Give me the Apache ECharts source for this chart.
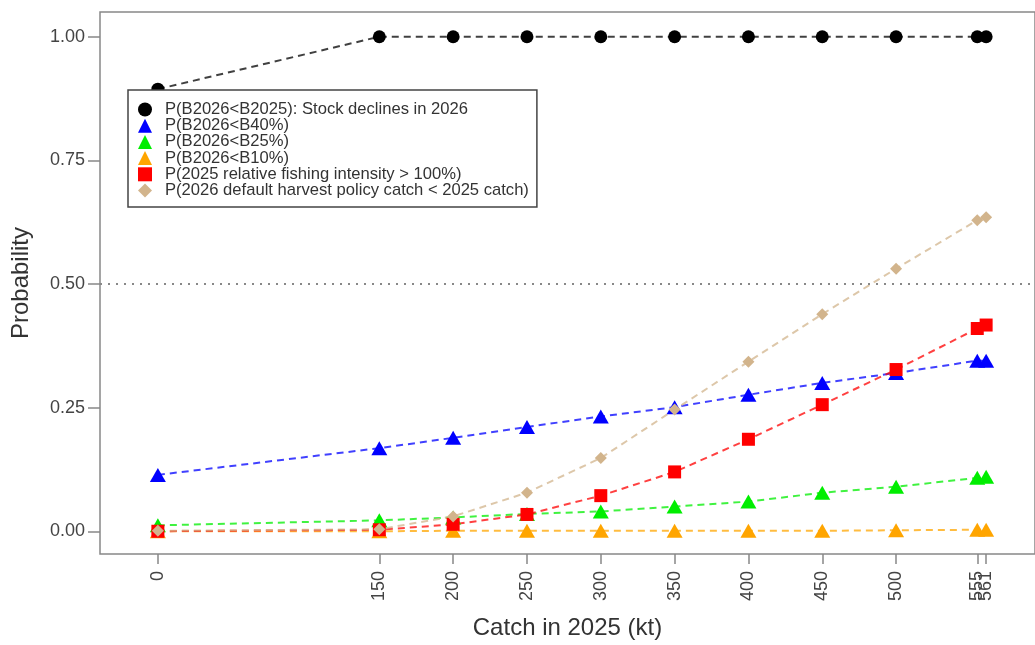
<!DOCTYPE html>
<html>
<head>
<meta charset="utf-8">
<script src="https://cdn.jsdelivr.net/npm/echarts@6/dist/echarts.min.js"></script>
<style>
  html, body { margin: 0; padding: 0; background: #fff; }
  #probChart { width: 1035px; height: 645px; }
</style>
</head>
<body>
<div id="probChart"></div>
<script>
// catch levels (kt) and tick labels
const catchKt = [0, 150, 200, 250, 300, 350, 400, 450, 500, 555, 561]
const yTicks = [0, 0.25, 0.5, 0.75, 1]
// 555 and 561 overlap, so 555 goes on its own label layer
const crowdedTick = [555]

// probabilities
const pDecline = [0.894, 1, 1, 1, 1, 1, 1, 1, 1, 1, 1]
const pB40 = [0.114, 0.168, 0.189, 0.211, 0.232, 0.251, 0.276, 0.300, 0.320, 0.345, 0.345]
const pB25 = [0.012, 0.022, 0.028, 0.035, 0.040, 0.050, 0.060, 0.078, 0.090, 0.108, 0.110]
const pB10 = [0.000, 0.000, 0.001, 0.001, 0.001, 0.001, 0.001, 0.001, 0.002, 0.003, 0.003]
const pOverfish = [0.000, 0.003, 0.014, 0.034, 0.072, 0.120, 0.186, 0.256, 0.327, 0.410, 0.417]
const pHcrLower = [0.001, 0.004, 0.030, 0.078, 0.148, 0.246, 0.343, 0.439, 0.531, 0.629, 0.635]

const names = [
  'P(B2026<B2025): Stock declines in 2026',
  'P(B2026<B40%)',
  'P(B2026<B25%)',
  'P(B2026<B10%)',
  'P(2025 relative fishing intensity > 100%)',
  'P(2026 default harvest policy catch < 2025 catch)'
]
const font = 'Liberation Sans, Arial, sans-serif'
const xMin = -39.2
const xMax = 594.1

function pairs(vals) {
  return catchKt.map((x, i) => [x, vals[i]])
}

function mkSeries(name, vals, color, symbol, size) {
  return {
    name: name,
    type: 'line',
    data: pairs(vals),
    symbol: symbol,
    symbolSize: size,
    showSymbol: true,
    itemStyle: { color: color },
    lineStyle: { color: color, width: 2, type: [7, 5], opacity: 0.75 },
    emphasis: { disabled: true },
    animation: false
  }
}

const chart = echarts.init(document.getElementById('probChart'))
const series = [
  mkSeries(names[0], pDecline, '#000000', 'circle', 13),
  mkSeries(names[1], pB40, '#0000ff', 'triangle', [16, 14]),
  mkSeries(names[2], pB25, '#00ee00', 'triangle', [16, 14]),
  mkSeries(names[3], pB10, '#ffa500', 'triangle', [16, 14]),
  mkSeries(names[4], pOverfish, '#ff0000', 'rect', 13),
  mkSeries(names[5], pHcrLower, '#d2b48c', 'diamond', 12)
]
// dotted reference line at 0.5
series[0].markLine = {
  silent: true,
  symbol: 'none',
  label: { show: false },
  lineStyle: { color: '#888', type: [2, 6], width: 2 },
  data: [{ yAxis: 0.5 }]
}

const xLabelStyle = {
  rotate: 90,
  margin: 17,
  hideOverlap: false,
  showMinLabel: true,
  showMaxLabel: true,
  fontFamily: font,
  fontSize: 18,
  color: '#444'
}

chart.setOption({
  animation: false,
  grid: {
    left: 100,
    right: -2,
    top: 12,
    bottom: 87,
    show: true,
    borderColor: '#888',
    borderWidth: 1.5
  },
  legend: {
    orient: 'vertical',
    left: 128,
    top: 90,
    padding: [11, 8, 8, 10],
    backgroundColor: '#fff',
    borderColor: '#444',
    borderWidth: 1.5,
    itemWidth: 14,
    itemHeight: 14,
    itemGap: -0.8,
    selectedMode: false,
    textStyle: {
      fontFamily: font,
      fontSize: 16.6,
      color: '#333',
      lineHeight: 16,
      padding: [0, 0, 0, 8]
    },
    data: [
      { name: names[0], icon: 'circle' },
      { name: names[1], icon: 'triangle' },
      { name: names[2], icon: 'triangle' },
      { name: names[3], icon: 'triangle' },
      { name: names[4], icon: 'rect' },
      { name: names[5], icon: 'diamond' }
    ]
  },
  xAxis: [
    {
      type: 'value',
      position: 'bottom',
      min: xMin,
      max: xMax,
      name: 'Catch in 2025 (kt)',
      nameLocation: 'middle',
      nameGap: 62,
      nameTextStyle: { fontFamily: font, fontSize: 24, color: '#333' },
      splitLine: { show: false },
      axisLine: { show: false, onZero: false },
      axisTick: {
        show: true,
        length: 10,
        customValues: catchKt,
        lineStyle: { color: '#888', width: 1.5 }
      },
      axisLabel: Object.assign({}, xLabelStyle, {
        customValues: catchKt.filter(v => !crowdedTick.includes(v))
      })
    },
    {
      type: 'value',
      position: 'bottom',
      offset: 0,
      min: xMin,
      max: xMax,
      splitLine: { show: false },
      axisLine: { show: false, onZero: false },
      axisTick: { show: false },
      axisLabel: Object.assign({}, xLabelStyle, { customValues: crowdedTick })
    }
  ],
  yAxis: {
    type: 'value',
    min: -0.046,
    max: 1.05,
    name: 'Probability',
    nameLocation: 'middle',
    nameGap: 67,
    nameTextStyle: { fontFamily: font, fontSize: 24, color: '#333' },
    splitLine: { show: false },
    axisLine: { show: false, onZero: false },
    axisTick: {
      show: true,
      length: 12,
      customValues: yTicks,
      lineStyle: { color: '#888', width: 1.5 }
    },
    axisLabel: {
      margin: 15,
      fontFamily: font,
      fontSize: 18,
      color: '#444',
      customValues: yTicks,
      formatter: v => v.toFixed(2)
    }
  },
  series: series
})
</script>
</body>
</html>
